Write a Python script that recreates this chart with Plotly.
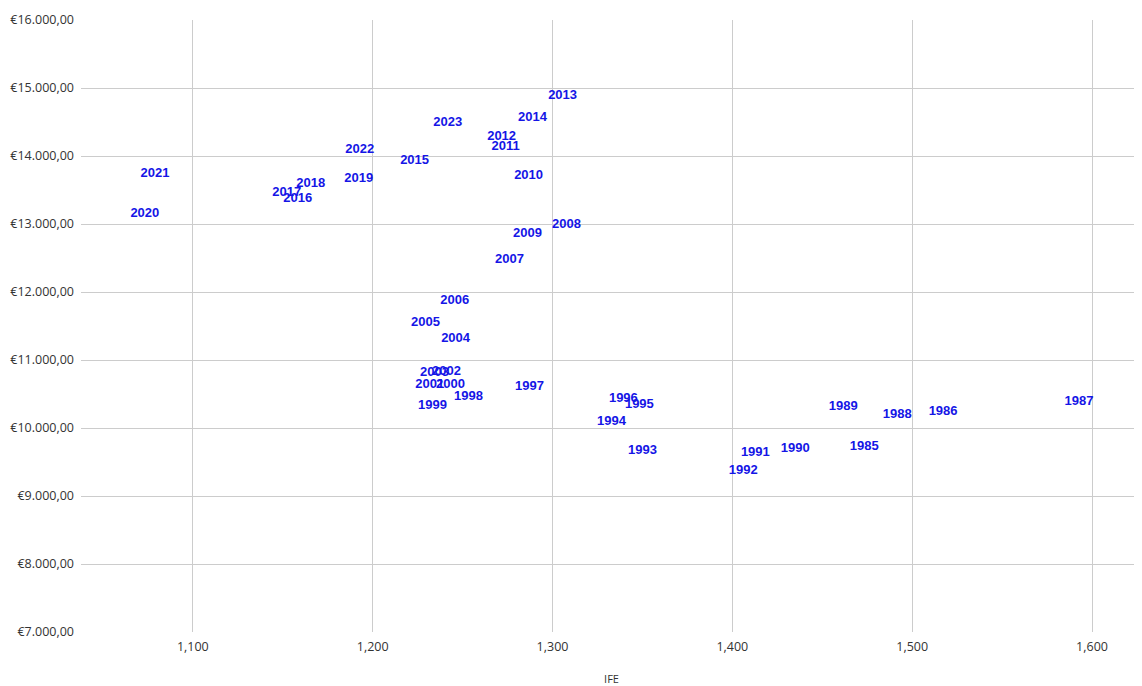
import plotly.graph_objects as go

years = ["2013", "2023", "2014", "2012", "2011", "2022", "2015", "2021", "2010", "2018",
         "2019", "2017", "2016", "2020", "2008", "2009", "2007", "2006", "2005", "2004",
         "2003", "2002", "2001", "2000", "1997", "1998", "1999", "1996", "1995", "1994",
         "1993", "1992", "1991", "1990", "1989", "1988", "1986", "1985", "1987"]
ife = [1305.6, 1241.7, 1288.9, 1271.7, 1273.9, 1192.8, 1223.3, 1078.9, 1286.7, 1165.6,
       1192.2, 1152.2, 1158.3, 1073.3, 1307.8, 1286.1, 1276.1, 1245.6, 1229.4, 1246.1,
       1234.4, 1241.0, 1231.7, 1243.3, 1287.2, 1253.3, 1233.3, 1339.4, 1348.3, 1332.8,
       1350.0, 1406.1, 1412.8, 1435.0, 1461.7, 1491.7, 1517.2, 1473.3, 1592.8]
value = [14885, 14488, 14561, 14282, 14135, 14091, 13929, 13738, 13708, 13591,
         13664, 13458, 13370, 13149, 12988, 12855, 12473, 11870, 11547, 11311,
         10811, 10826, 10635, 10635, 10605, 10458, 10326, 10429, 10341, 10091,
         9664, 9370, 9635, 9694, 10311, 10194, 10238, 9723, 10385]

y_ticks = [7000, 8000, 9000, 10000, 11000, 12000, 13000, 14000, 15000, 16000]
y_ticktext = ["€7.000,00", "€8.000,00", "€9.000,00", "€10.000,00", "€11.000,00",
              "€12.000,00", "€13.000,00", "€14.000,00", "€15.000,00", "€16.000,00"]
x_ticks = [1100, 1200, 1300, 1400, 1500, 1600]
x_ticktext = ["1,100", "1,200", "1,300", "1,400", "1,500", "1,600"]

fig = go.Figure(go.Scatter(
    x=ife, y=value, text=years, mode="text",
    textposition="middle center",
    textfont=dict(family="Liberation Sans, Arial", size=13, color="#1515e6", weight="bold"),
    hoverinfo="x+y+text",
))

fig.update_layout(
    width=1134, height=678,
    margin=dict(l=73, r=0, t=12, b=54),
    paper_bgcolor="white", plot_bgcolor="white",
    showlegend=False,
    font=dict(family="Open Sans, Liberation Sans", size=12, color="#333333"),
    xaxis=dict(
        range=[1037.8, 1627.8], tickvals=x_ticks, ticktext=x_ticktext,
        showgrid=True, gridcolor="#cccccc", gridwidth=1, zeroline=False,
        showline=False, ticks="", tickfont=dict(size=12.5, color="#333333"),
        ticklabelstandoff=5,
        title=dict(text="IFE", font=dict(size=11, color="#333333"), standoff=24),
    ),
    yaxis=dict(
        range=[7000, 16000], tickvals=y_ticks, ticktext=y_ticktext,
        showgrid=True, gridcolor="#cccccc", gridwidth=1, zeroline=False,
        showline=False, ticks="", tickfont=dict(size=12.5, color="#333333"),
        ticklabelstandoff=6,
    ),
)

fig.write_html("out.html")
